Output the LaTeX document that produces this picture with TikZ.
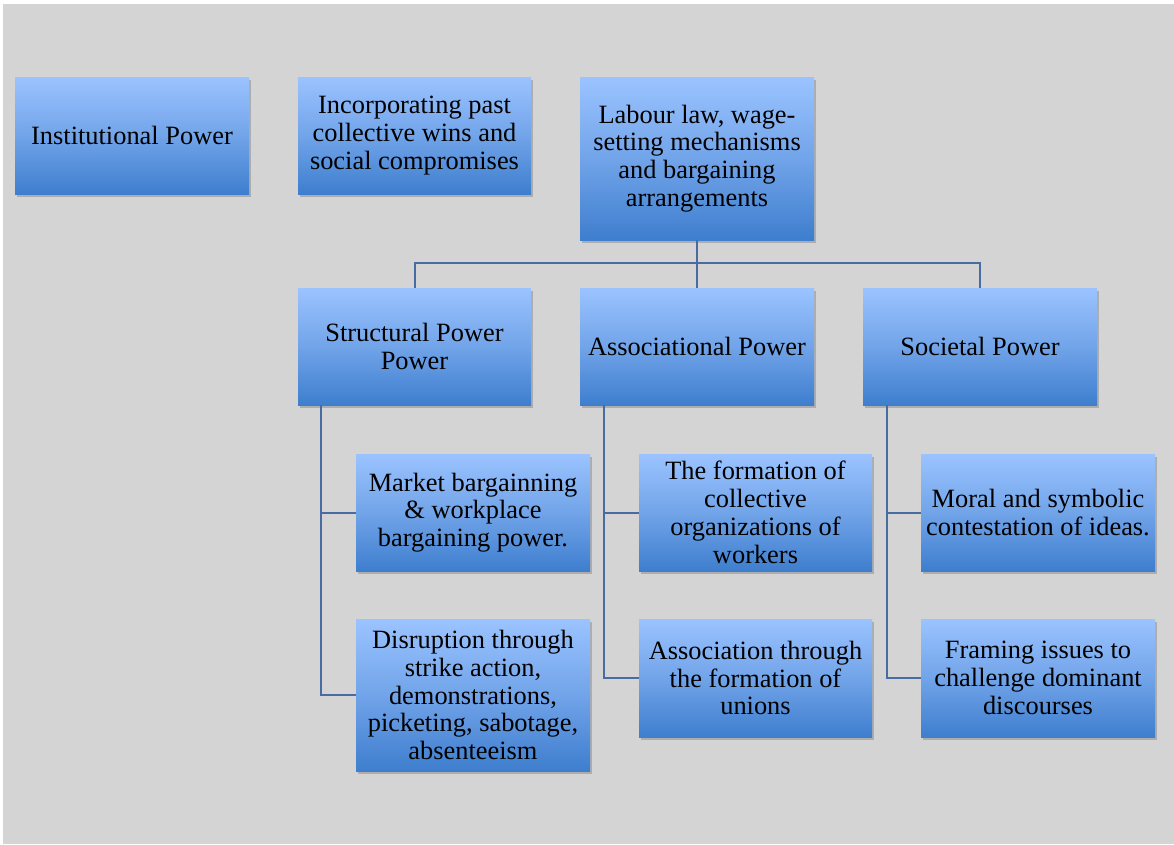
\documentclass[tikz,border=0pt]{standalone}
\usepackage{fontspec}
\setmainfont{Liberation Serif}
\usetikzlibrary{shadows,calc}
\definecolor{bgray}{RGB}{212,212,212}
\definecolor{boxtop}{RGB}{155,195,255}
\definecolor{boxbot}{RGB}{62,126,206}
\definecolor{linkc}{RGB}{72,108,162}
\tikzset{
  pbox/.style={rectangle, inner sep=0pt, align=center, text=black,
    top color=boxtop, bottom color=boxbot, middle color=boxtop!55!boxbot,
    font=\fontsize{26.4}{27.8}\selectfont,
    drop shadow={shadow xshift=2pt, shadow yshift=-3pt, opacity=0.35, fill=black!60}},
  link/.style={draw=linkc, line width=2pt}
}
\newcommand{\pb}[6]{% name, x1, y1, x2, y2, text
  \node[pbox, minimum width=#4-#2, minimum height=#5-#3] (#1) at ({(#2+#4)/2},{(#3+#5)/2}) {#6};}
\begin{document}
\begin{tikzpicture}[x=1pt,y=-1pt]
\useasboundingbox (0,0) rectangle (1174,844);
\fill[white] (0,0) rectangle (1174,844);
\fill[bgray] (3,4) rectangle (1174,844);
\pb{inst}{15}{77}{249}{194}{Institutional Power}
\pb{inc}{298}{77}{531}{194}{Incorporating past\\collective wins and\\social compromises}
\pb{law}{580}{77}{814}{240}{Labour law, wage-\\setting mechanisms\\and bargaining\\arrangements}
\pb{str}{298}{288}{531}{405}{Structural Power\\Power}
\pb{ass}{580}{288}{814}{405}{Associational Power}
\pb{soc}{863}{288}{1097}{405}{Societal Power}
\pb{mkt}{356}{454}{590}{571}{Market bargainning\\\& workplace\\bargaining power.}
\pb{dis}{356}{619}{590}{771}{Disruption through\\strike action,\\demonstrations,\\picketing, sabotage,\\absenteeism}
\pb{frm}{639}{454}{872}{571}{The formation of\\collective\\organizations of\\workers}
\pb{uni}{639}{619}{872}{737}{Association through\\the formation of\\unions}
\pb{mor}{921}{454}{1155}{571}{Moral and symbolic\\contestation of ideas.}
\pb{fra}{921}{619}{1155}{737}{Framing issues to\\challenge dominant\\discourses}
\coordinate (bus) at (697,263);
\draw[link] (law.south) -- (bus);
\draw[link] (str.north) |- (bus) -| (soc.north);
\draw[link] (bus) -- (ass.north);
\draw[link] ($(str.south west)+(23,0)$) |- (dis.west);
\draw[link] ($(str.south west)+(23,0)$) |- (mkt.west);
\draw[link] ($(ass.south west)+(24,0)$) |- (uni.west);
\draw[link] ($(ass.south west)+(24,0)$) |- (frm.west);
\draw[link] ($(soc.south west)+(24,0)$) |- (fra.west);
\draw[link] ($(soc.south west)+(24,0)$) |- (mor.west);
\end{tikzpicture}
\end{document}
